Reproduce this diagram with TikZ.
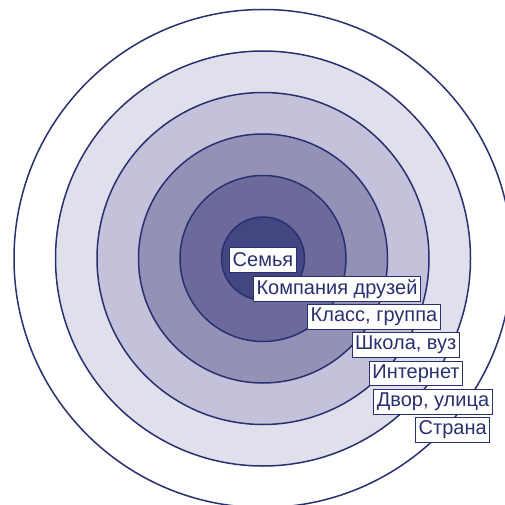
\documentclass[tikz,border=0pt]{standalone}
\usepackage{fontspec}
\setsansfont{Liberation Sans}
\usetikzlibrary{positioning}

\definecolor{navy}{HTML}{283071}
\definecolor{ringA}{HTML}{434681}
\definecolor{ringB}{HTML}{6C6A9A}
\definecolor{ringC}{HTML}{9391B5}
\definecolor{ringD}{HTML}{C3C2DA}
\definecolor{ringE}{HTML}{E0DFEC}

\begin{document}
\begin{tikzpicture}[
  x=1pt, y=-1pt,
  font=\sffamily\fontsize{20}{23}\selectfont,
  ring/.style={draw=navy, line width=1.5pt},
  tag/.style={draw=navy, fill=white, text=navy, line width=0.8pt,
    inner xsep=3pt, inner ysep=0pt, minimum height=24.5pt}
]
\useasboundingbox (0,0) rectangle (505,505);
\clip (0,0) rectangle (505,505);

% --- nested circles, outermost first ---
\coordinate (c) at (263,258.5);
\foreach \r/\col in {249/white, 207.5/ringE, 166/ringD, 124.5/ringC, 83/ringB, 41.5/ringA}
  \draw[ring, fill=\col] (c) circle[radius=\r];

% --- labels stepping down to the right ---
\node[tag] (semya)     at (263,260)   {Семья};
\node[tag] (kompaniya) at (337,289)   {Компания друзей};
\node[tag] (klass)     at (374,317)   {Класс, группа};
\node[tag] (shkola)    at (405.7,345) {Школа, вуз};
\node[tag] (internet)  at (416,373.5) {Интернет};
\node[tag] (dvor)      at (433,402)   {Двор, улица};
\node[tag] (strana)    at (452.7,430) {Страна};

\end{tikzpicture}
\end{document}
